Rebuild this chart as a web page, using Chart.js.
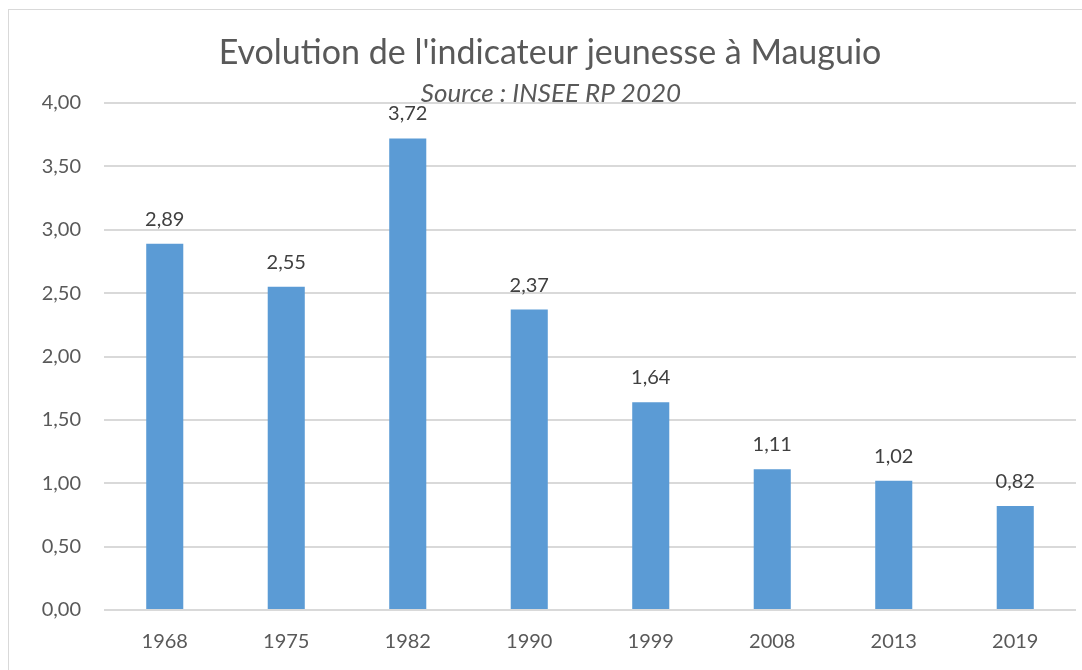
<!DOCTYPE html>
<html>
<head>
<meta charset="utf-8">
<script src="https://cdn.jsdelivr.net/npm/chart.js@4"></script>
<style>
  html, body { margin: 0; padding: 0; background: #ffffff; overflow: hidden; }
  #frame { position: absolute; left: 8px; top: 9px; width: 1200px; height: 800px; border: 1px solid #d9d9d9; box-sizing: border-box; }
  #wrap { position: absolute; left: 0; top: 0; width: 1082px; height: 670px; }
</style>
</head>
<body>
<div id="frame"></div>
<div id="wrap"><canvas id="c" width="1082" height="670"></canvas></div>
<script>
const categories = ['1968', '1975', '1982', '1990', '1999', '2008', '2013', '2019'];
const values = [2.89, 2.55, 3.72, 2.37, 1.64, 1.11, 1.02, 0.82];
const titleText = "Evolution de l'indicateur jeunesse à Mauguio";
const subtitleText = 'Source : INSEE RP 2020';

const fmt = v => v.toFixed(2).replace('.', ',');

const overlayPlugin = {
  id: 'overlay',
  afterDatasetsDraw(chart) {
    const ctx = chart.ctx;
    ctx.save();
    // data labels
    ctx.font = '20px Lato';
    ctx.fillStyle = '#404040';
    ctx.textAlign = 'center';
    ctx.textBaseline = 'alphabetic';
    const meta = chart.getDatasetMeta(0);
    meta.data.forEach((bar, i) => {
      ctx.fillText(fmt(values[i]), bar.x, bar.y - 18);
    });
    // title
    ctx.fillStyle = '#595959';
    ctx.font = '34px Lato';
    ctx.fillText(titleText, 550, 64);
    ctx.font = 'italic 26px Lato';
    ctx.fillText(subtitleText, 551, 102);
    ctx.restore();
  }
};

new Chart(document.getElementById('c'), {
  type: 'bar',
  data: {
    labels: categories,
    datasets: [{
      data: values,
      backgroundColor: '#5b9bd5',
      borderWidth: 0,
      barPercentage: 0.305,
      categoryPercentage: 1.0
    }]
  },
  options: {
    responsive: false,
    animation: false,
    devicePixelRatio: 1,
    layout: { padding: { top: 103, right: 6, left: 0, bottom: 0 } },
    plugins: { legend: { display: false }, title: { display: false }, tooltip: { enabled: false } },
    scales: {
      x: {
        grid: { display: false, drawTicks: false },
        border: { display: false },
        ticks: { color: '#595959', font: { family: 'Lato', size: 20 }, padding: 20 },
        afterFit(scale) { scale.height = 60; }
      },
      y: {
        min: 0, max: 4,
        grid: { color: '#d9d9d9', lineWidth: 2, drawTicks: false },
        border: { display: false },
        ticks: {
          stepSize: 0.5,
          color: '#595959',
          font: { family: 'Lato', size: 20 },
          padding: 23,
          callback: v => fmt(v)
        },
        afterFit(scale) { scale.width = 104; }
      }
    }
  },
  plugins: [overlayPlugin]
});
</script>
</body>
</html>
